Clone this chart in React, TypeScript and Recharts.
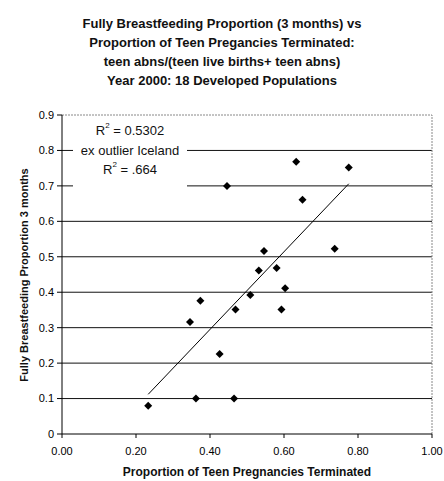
import React from 'react';
import { ScatterChart, Scatter, XAxis, YAxis, ReferenceLine } from 'recharts';

// proportion of teen pregnancies terminated, one per population
const terminated = [0.633, 0.775, 0.446, 0.65, 0.737, 0.546, 0.532, 0.58, 0.603, 0.509, 0.374, 0.469, 0.593, 0.346, 0.426, 0.233, 0.362, 0.465];
// fully breastfeeding proportion at 3 months, same order
const breastfeeding = [0.768, 0.752, 0.7, 0.661, 0.523, 0.516, 0.461, 0.468, 0.411, 0.392, 0.376, 0.351, 0.351, 0.316, 0.226, 0.08, 0.1, 0.1];

// fitted trend line ends
const trendX = [0.233, 0.775];
const trendY = [0.112, 0.706];

const xTicks = [0, 0.2, 0.4, 0.6, 0.8, 1];
const yTicks = [0, 0.1, 0.2, 0.3, 0.4, 0.5, 0.6, 0.7, 0.8, 0.9];
const gridLevels = [0.1, 0.2, 0.3, 0.4, 0.5, 0.6, 0.7, 0.8];

const titleLines = [
  'Fully Breastfeeding Proportion (3 months) vs',
  'Proportion of Teen Pregancies Terminated:',
  'teen abns/(teen live births+ teen abns)',
  'Year 2000:  18 Developed Populations',
];

const points = terminated.map((x, i) => ({ x, y: breastfeeding[i] }));
const trend = trendX.map((x, i) => ({ x, y: trendY[i] }));

const FONT = "Arial, 'Liberation Sans', sans-serif";

const Diamond = (props: any) => {
  const { cx, cy } = props;
  const r = 4;
  return <polygon points={`${cx},${cy - r} ${cx + r},${cy} ${cx},${cy + r} ${cx - r},${cy}`} fill="#000" />;
};

export default function App() {
  return (
    <div style={{ position: 'absolute', left: 0, top: 0, width: 444, height: 481, background: '#fff', fontFamily: FONT }}>
      <div style={{ position: 'absolute', left: 0, top: 14, width: 444, textAlign: 'center', fontWeight: 'bold', fontSize: 13, lineHeight: '19px', color: '#111' }}>
        {titleLines.map(t => <div key={t}>{t}</div>)}
      </div>

      <ScatterChart width={444} height={481} margin={{ top: 115, right: 12, bottom: 17, left: 20 }}>
        <XAxis
          type="number"
          dataKey="x"
          domain={[0, 1]}
          ticks={xTicks}
          tickFormatter={(v: number) => v.toFixed(2)}
          axisLine={{ stroke: '#000' }}
          tickLine={{ stroke: '#000' }}
          tickSize={4}
          tickMargin={9}
          height={30}
          tick={{ fill: '#000', fontSize: 11, fontFamily: FONT }}
        />
        <YAxis
          type="number"
          dataKey="y"
          domain={[0, 0.9]}
          ticks={yTicks}
          tickFormatter={(v: number) => (v === 0 ? '0' : v.toFixed(1))}
          axisLine={{ stroke: '#000' }}
          tickLine={{ stroke: '#000' }}
          tickSize={5}
          tickMargin={3}
          width={42}
          tick={{ fill: '#000', fontSize: 11, fontFamily: FONT }}
        />
        {gridLevels.map(g => (
          <ReferenceLine key={g} y={g} stroke="#111" strokeWidth={1} />
        ))}
        <ReferenceLine y={0.9} stroke="#888" strokeDasharray="2 1" />
        <ReferenceLine x={1} stroke="#888" strokeDasharray="2 1" />
        <ReferenceLine segment={trend} stroke="#000" strokeWidth={1} />
        <Scatter data={points} shape={Diamond} isAnimationActive={false} />
      </ScatterChart>

      {/* regression note, sits over the gridlines */}
      <div style={{ position: 'absolute', left: 73, top: 121, width: 114, height: 69, background: '#fff', textAlign: 'center', fontSize: 13, lineHeight: '19.5px', color: '#111' }}>
        <div>R<sup style={{ fontSize: 8, verticalAlign: 'top', lineHeight: '10px' }}>2</sup> = 0.5302</div>
        <div>ex outlier Iceland</div>
        <div>R<sup style={{ fontSize: 8, verticalAlign: 'top', lineHeight: '10px' }}>2</sup> = .664</div>
      </div>

      <div style={{ position: 'absolute', left: 62, top: 465, width: 370, textAlign: 'center', fontWeight: 'bold', fontSize: 12, color: '#111' }}>
        Proportion of Teen Pregnancies Terminated
      </div>
      <div style={{ position: 'absolute', left: 24, top: 275, width: 0, height: 0 }}>
        <div style={{ position: 'absolute', left: -150, top: -8, width: 300, textAlign: 'center', transform: 'rotate(-90deg)', fontWeight: 'bold', fontSize: 11, lineHeight: '16px', color: '#111', whiteSpace: 'nowrap' }}>
          Fully Breastfeeding Proportion 3 months
        </div>
      </div>
    </div>
  );
}
